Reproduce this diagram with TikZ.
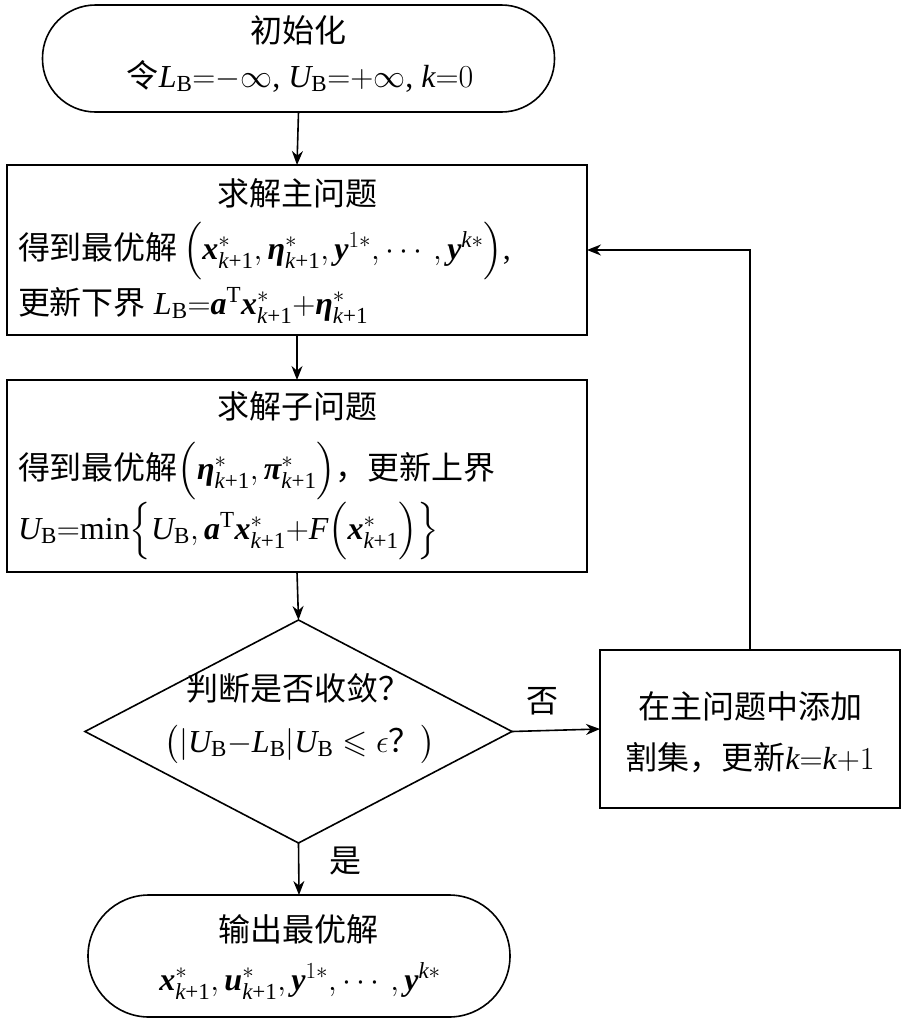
\RequirePackage{fix-cm}
\documentclass[tikz,border=0pt]{standalone}
\usepackage{amsmath,amssymb}
\usepackage{fontspec}
\setmainfont{Liberation Serif}
\newfontfamily\cjk{Noto Sans CJK SC}
\usetikzlibrary{arrows.meta,shapes.geometric}
\DeclareFontFamily{U}{msa}{}
\DeclareFontShape{U}{msa}{m}{n}{<->msam10}{}
\DeclareMathSizes{32}{32}{23}{17}

\newcommand{\zh}[1]{{\cjk #1}}
\newcommand{\tv}[1]{\text{\bfseries\itshape #1}}
\newcommand{\ti}[1]{\text{\itshape #1}}
\newcommand{\kp}{\text{\itshape k\upshape +1}}
\newcommand{\LB}{\ti{L}_{\mathrm{B}}}
\newcommand{\UB}{\ti{U}_{\mathrm{B}}}

\begin{document}
\begin{tikzpicture}[x=1pt,y=-1pt,
  font=\fontsize{32}{38}\selectfont,
  every node/.style={inner sep=0pt, outer sep=0pt},
  line/.style={line width=1.6pt},
  flow/.style={line, -{Stealth[length=14pt,width=11pt]}},
  terminal/.style={draw, line width=1.6pt, rounded corners=#1},
  procbox/.style={draw, line width=1.6pt, rectangle},
  decision/.style={draw, line width=1.6pt, diamond}]
\useasboundingbox (0,0) rectangle (907,1021);

% shapes
\node[terminal=53pt, minimum width=512pt, minimum height=107pt] (start) at (298.5,58.5) {};
\node[procbox, minimum width=580pt, minimum height=170pt] (master) at (297,250) {};
\node[procbox, minimum width=580pt, minimum height=192pt] (sub) at (297,476) {};
\node[decision, minimum width=427pt, minimum height=223pt] (check) at (298.5,731.5) {};
\node[procbox, minimum width=300pt, minimum height=158pt] (addcut) at (750,729) {};
\node[terminal=61pt, minimum width=422pt, minimum height=122pt] (stop) at (299,956) {};

% texts
\node[anchor=base] (starttitle) at (298,42) {\zh{初始化}};
\node[anchor=base] (startinit) at (300,87) {\zh{令}$\LB{=}{-}\infty$, $\UB{=}{+}\infty$, $\ti{k}{=}0$};

\node[anchor=base] (mastertitle) at (297,205) {\zh{求解主问题}};
\node[anchor=base west] (mastersol) at (18,259) {\zh{得到最优解}\,$\Bigl(\tv{x}^{*}_{\kp}, \tv{η}^{*}_{\kp}, \tv{y}^{1*}, \cdots, \tv{y}^{\ti{k}*}\Bigr)$,};
\node[anchor=base west] (masterlb) at (18,314) {\zh{更新下界} $\LB{=}\tv{a}^{\mathrm{T}}\tv{x}^{*}_{\kp}{+}\tv{η}^{*}_{\kp}$};

\node[anchor=base] (subtitle) at (297,418) {\zh{求解子问题}};
\node[anchor=base west] (subsol) at (18,479) {\zh{得到最优解}$\Bigl(\tv{η}^{*}_{\kp}, \tv{π}^{*}_{\kp}\Bigr)$\zh{，更新上界}};
\node[anchor=base west] (subub) at (18,539) {$\UB{=}\mathrm{min}\Bigl\{\UB, \tv{a}^{\mathrm{T}}\tv{x}^{*}_{\kp}{+}\ti{F}\Bigl(\tv{x}^{*}_{\kp}\Bigr)\Bigr\}$};

\node[anchor=base] (checkq) at (298,700) {\zh{判断是否收敛？}};
\node[anchor=base] (checkrule) at (300,752) {$\bigl(|\UB{-}\LB|\UB\leqslant\epsilon$\zh{？}$\bigr)$};

\node[anchor=base] (cutline) at (750,718) {\zh{在主问题中添加}};
\node[anchor=base] (cutupd) at (750,769) {\zh{割集，更新}$\ti{k}{=}\ti{k}{+}1$};

\node[anchor=base] (stoptitle) at (298,941) {\zh{输出最优解}};
\node[anchor=base] (stopsol) at (300,990) {$\tv{x}^{*}_{\kp}, \tv{u}^{*}_{\kp}, \tv{y}^{1*}, \cdots, \tv{y}^{\ti{k}*}$};

% connectors
\draw[flow] (start.south) -- (master.north);
\draw[flow] (master.south) -- (sub.north);
\draw[flow] (sub.south) -- (check.north);
\draw[flow] (check.east) -- node[pos=0.35, above=16pt] (nolbl) {\zh{否}} (addcut.west);
\draw[flow] (check.south) -- node[pos=0.35, right=31pt] (yeslbl) {\zh{是}} (stop.north);
\draw[flow] (addcut.north) |- (master.east);
\end{tikzpicture}
\end{document}
